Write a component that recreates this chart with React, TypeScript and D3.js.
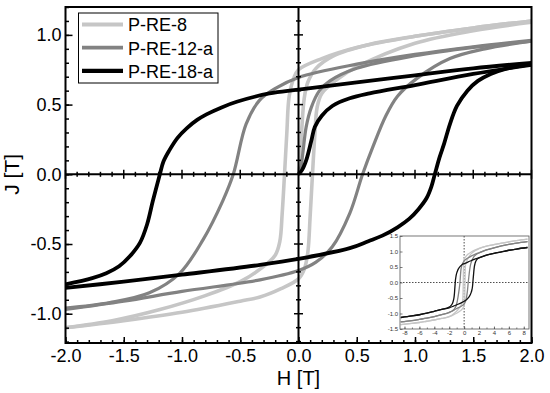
import { useEffect, useRef } from 'react'
import * as d3 from 'd3'

const FONT = "'Liberation Sans', Arial, sans-serif"

// P-RE-8 (light grey) — H in T, J in T
const re8DescH = [-2, -1.6, -1.19, -0.8, -0.5, -0.33, -0.2, -0.16, -0.14, -0.12, -0.1, -0.08, -0.04, 0, 0.2, 0.5, 1.0, 1.5, 2]
const re8DescJ = [-1.1, -1.05, -0.97, -0.87, -0.77, -0.68, -0.58, -0.48, -0.28, 0, 0.3, 0.56, 0.69, 0.75, 0.83, 0.91, 0.99, 1.05, 1.1]
const re8AscH = [-2, -1.5, -1.0, -0.5, -0.33, -0.15, 0, 0.05, 0.08, 0.1, 0.12, 0.14, 0.16, 0.2, 0.33, 0.5, 1.0, 1.5, 2]
const re8AscJ = [-1.1, -1.05, -0.99, -0.91, -0.88, -0.82, -0.75, -0.68, -0.56, -0.3, 0, 0.28, 0.48, 0.58, 0.68, 0.77, 0.94, 1.03, 1.09]
const re8VirginH = [0, 0.015, 0.03, 0.05, 0.08, 0.15, 0.3, 0.6, 1.0, 1.5, 2]
const re8VirginJ = [0, 0.1, 0.35, 0.55, 0.66, 0.76, 0.85, 0.93, 0.99, 1.05, 1.1]

// P-RE-12-a (mid grey)
const re12DescH = [-2, -1.62, -1.28, -1.02, -0.82, -0.65, -0.56, -0.45, -0.335, -0.19, 0, 0.5, 1.0, 1.5, 2]
const re12DescJ = [-0.96, -0.92, -0.85, -0.71, -0.47, -0.19, 0, 0.36, 0.53, 0.62, 0.695, 0.79, 0.86, 0.915, 0.96]
const re12AscH = [-2, -1.5, -1.0, -0.33, 0, 0.15, 0.29, 0.44, 0.55, 0.64, 0.75, 0.85, 1.02, 1.3, 1.6, 2]
const re12AscJ = [-0.97, -0.91, -0.84, -0.757, -0.69, -0.63, -0.52, -0.28, 0, 0.2, 0.42, 0.56, 0.69, 0.83, 0.9, 0.955]
const re12VirginH = [0, 0.02, 0.037, 0.066, 0.11, 0.18, 0.27, 0.5, 1.0, 1.5, 2]
const re12VirginJ = [0, 0.05, 0.15, 0.34, 0.48, 0.6, 0.67, 0.76, 0.85, 0.91, 0.955]

// P-RE-18-a (black)
const re18DescH = [-2, -1.77, -1.65, -1.54, -1.45, -1.36, -1.3, -1.25, -1.19, -1.16, -1.11, -1.04, -0.96, -0.87, -0.79, -0.66, -0.53, -0.25, 0, 0.5, 1.0, 1.5, 2]
const re18DescJ = [-0.79, -0.745, -0.71, -0.66, -0.59, -0.49, -0.36, -0.19, 0, 0.09, 0.17, 0.26, 0.33, 0.39, 0.43, 0.48, 0.52, 0.58, 0.607, 0.66, 0.71, 0.76, 0.8]
const re18AscH = [-2, -1.5, -1.0, -0.33, 0, 0.44, 0.6, 0.72, 0.85, 0.95, 1.03, 1.1, 1.14, 1.17, 1.21, 1.25, 1.3, 1.36, 1.45, 1.54, 1.65, 1.77, 2]
const re18AscJ = [-0.815, -0.77, -0.72, -0.65, -0.607, -0.53, -0.48, -0.44, -0.38, -0.32, -0.25, -0.17, -0.09, 0, 0.12, 0.22, 0.36, 0.49, 0.6, 0.67, 0.72, 0.755, 0.79]
const re18VirginH = [0, 0.03, 0.066, 0.11, 0.14, 0.2, 0.29, 0.44, 0.61, 1.0, 1.5, 2]
const re18VirginJ = [0, 0.03, 0.1, 0.24, 0.34, 0.42, 0.49, 0.545, 0.58, 0.64, 0.72, 0.785]

// inset: wider field range, outer parts of the loops
const insetLowH = [-8.5, -7, -6, -5, -4, -3]
const insetHighH = [3, 4, 5, 6, 7, 8.5]
const re8LowJ = [-1.36, -1.32, -1.29, -1.25, -1.21, -1.16]
const re8HighJ = [1.17, 1.22, 1.27, 1.31, 1.35, 1.4]
const re12LowJ = [-1.27, -1.23, -1.19, -1.15, -1.1, -1.04]
const re12HighJ = [1.05, 1.12, 1.18, 1.23, 1.27, 1.32]
const re18LowJ = [-1.13, -1.08, -1.04, -0.99, -0.93, -0.87]
const re18HighJ = [0.88, 0.94, 0.99, 1.04, 1.08, 1.13]

const xTicks = [-2, -1.5, -1, -0.5, 0, 0.5, 1, 1.5, 2]
const yTicks = [-1, -0.5, 0, 0.5, 1]
const insetXTicks = [-8, -6, -4, -2, 0, 2, 4, 6, 8]
const insetYTicks = [-1.5, -1, -0.5, 0, 0.5, 1, 1.5]

type Pt = [number, number]
const zip = (h: number[], j: number[]): Pt[] => h.map((v, i) => [v, j[i]])

export default function App() {
  const svgRef = useRef<SVGSVGElement>(null)

  useEffect(() => {
    if (!svgRef.current) return
    const svg = d3.select(svgRef.current)
    svg.selectAll('*').remove()

    const series = [
      { name: 'P-RE-8', color: '#c6c6c6', width: 3.6, desc: zip(re8DescH, re8DescJ), asc: zip(re8AscH, re8AscJ), virgin: zip(re8VirginH, re8VirginJ), low: zip(insetLowH, re8LowJ), high: zip(insetHighH, re8HighJ) },
      { name: 'P-RE-12-a', color: '#828282', width: 3.2, desc: zip(re12DescH, re12DescJ), asc: zip(re12AscH, re12AscJ), virgin: zip(re12VirginH, re12VirginJ), low: zip(insetLowH, re12LowJ), high: zip(insetHighH, re12HighJ) },
      { name: 'P-RE-18-a', color: '#000000', width: 3.8, desc: zip(re18DescH, re18DescJ), asc: zip(re18AscH, re18AscJ), virgin: zip(re18VirginH, re18VirginJ), low: zip(insetLowH, re18LowJ), high: zip(insetHighH, re18HighJ) },
    ]

    const left = 65.5, right = 531.5, top = 7, bottom = 343
    const x = d3.scaleLinear().domain([-2, 2]).range([left, right])
    const y = d3.scaleLinear().domain([-1.21, 1.2]).range([bottom, top])

    svg.append('rect').attr('width', 550).attr('height', 393).attr('fill', '#fff')

    const defs = svg.append('defs')
    defs.append('clipPath').attr('id', 'plot-clip')
      .append('rect').attr('x', left).attr('y', top).attr('width', right - left).attr('height', bottom - top)

    const line = d3.line<Pt>()
      .x(d => x(d[0]))
      .y(d => y(d[1]))
      .curve(d3.curveCatmullRom.alpha(0.5))

    const curves = svg.append('g').attr('clip-path', 'url(#plot-clip)')
    series.forEach(s => {
      ;[s.desc, s.asc, s.virgin].forEach(branch => {
        curves.append('path')
          .datum(branch)
          .attr('fill', 'none')
          .attr('stroke', s.color)
          .attr('stroke-width', s.width)
          .attr('stroke-linejoin', 'round')
          .attr('d', line)
      })
    })

    // crossing axes through the origin
    const cross = svg.append('g').attr('stroke', '#000')
    cross.append('line').attr('x1', left).attr('x2', right).attr('y1', y(0)).attr('y2', y(0)).attr('stroke-width', 2)
    cross.append('line').attr('x1', x(0)).attr('x2', x(0)).attr('y1', top).attr('y2', bottom).attr('stroke-width', 2)

    const hMinor = d3.range(-20, 21).map(i => i / 10)
    const jMinor = d3.range(-12, 13).map(i => i / 10)
    const isMajor = (v: number) => Math.abs(Math.round(v * 2) - v * 2) < 1e-6

    cross.selectAll('line.hx')
      .data(hMinor.filter(v => v !== 0))
      .join('line')
      .attr('class', 'hx')
      .attr('x1', d => x(d)).attr('x2', d => x(d))
      .attr('y1', d => y(0) - (isMajor(d) ? 4.5 : 2.5))
      .attr('y2', d => y(0) + (isMajor(d) ? 4.5 : 2.5))
      .attr('stroke-width', 1.5)
    cross.selectAll('line.jy')
      .data(jMinor.filter(v => v !== 0))
      .join('line')
      .attr('class', 'jy')
      .attr('y1', d => y(d)).attr('y2', d => y(d))
      .attr('x1', d => x(0) - (isMajor(d) ? 4.5 : 2.5))
      .attr('x2', d => x(0) + (isMajor(d) ? 4.5 : 2.5))
      .attr('stroke-width', 1.5)

    // frame axes
    const fmt = (d: d3.NumberValue) => (+d).toFixed(1)
    const bottomAxis = svg.append('g')
      .attr('transform', `translate(0,${bottom})`)
      .call(d3.axisBottom(x).tickValues(xTicks).tickSize(-6).tickPadding(6).tickFormat(fmt))
    svg.append('g')
      .attr('transform', `translate(0,${bottom})`)
      .call(d3.axisBottom(x).tickValues(hMinor).tickSize(-3).tickFormat(() => ''))
    const leftAxis = svg.append('g')
      .attr('transform', `translate(${left},0)`)
      .call(d3.axisLeft(y).tickValues(yTicks).tickSize(-7).tickPadding(4).tickFormat(fmt))
    svg.append('g')
      .attr('transform', `translate(${left},0)`)
      .call(d3.axisLeft(y).tickValues(jMinor).tickSize(-3.5).tickFormat(() => ''))

    svg.selectAll('.domain').remove()
    svg.selectAll('.tick line').attr('stroke', '#000').attr('stroke-width', 1.5)
    ;[bottomAxis, leftAxis].forEach(a => a.selectAll('text')
      .style('font-family', FONT)
      .style('font-size', '18px')
      .attr('fill', '#000'))

    svg.append('rect')
      .attr('x', left).attr('y', top)
      .attr('width', right - left).attr('height', bottom - top)
      .attr('fill', 'none').attr('stroke', '#000').attr('stroke-width', 2)

    svg.append('text')
      .attr('x', x(0)).attr('y', 385)
      .attr('text-anchor', 'middle')
      .style('font-family', FONT).style('font-size', '20px')
      .text('H [T]')
    svg.append('text')
      .attr('transform', `translate(19,${y(0)}) rotate(-90)`)
      .attr('text-anchor', 'middle')
      .style('font-family', FONT).style('font-size', '21px')
      .text('J [T]')

    // legend
    const legend = svg.append('g')
    legend.append('rect')
      .attr('x', 78.5).attr('y', 13).attr('width', 139.5).attr('height', 70)
      .attr('fill', '#fff').attr('stroke', '#000').attr('stroke-width', 1)
    series.forEach((s, i) => {
      const cy = 24.5 + i * 23.2
      legend.append('line')
        .attr('x1', 82).attr('x2', 123).attr('y1', cy).attr('y2', cy)
        .attr('stroke', s.color).attr('stroke-width', s.width + 0.6)
      legend.append('text')
        .attr('x', 128).attr('y', cy + 6.8)
        .style('font-family', FONT).style('font-size', '18px')
        .text(s.name)
    })

    // inset with the full field range
    const il = 400, ir = 529, it = 236, ib = 329
    const ix = d3.scaleLinear().domain([-8.6, 8.7]).range([il, ir])
    const iy = d3.scaleLinear().domain([-1.5, 1.5]).range([ib, it])
    defs.append('clipPath').attr('id', 'inset-clip')
      .append('rect').attr('x', il).attr('y', it).attr('width', ir - il).attr('height', ib - it)

    const inset = svg.append('g')
    inset.append('rect')
      .attr('x', il).attr('y', it).attr('width', ir - il).attr('height', ib - it)
      .attr('fill', '#fff')
    inset.append('line').attr('x1', il).attr('x2', ir).attr('y1', iy(0)).attr('y2', iy(0))
      .attr('stroke', '#222').attr('stroke-width', 0.8).attr('stroke-dasharray', '1.5,1.5')
    inset.append('line').attr('x1', ix(0)).attr('x2', ix(0)).attr('y1', it).attr('y2', ib)
      .attr('stroke', '#222').attr('stroke-width', 0.8).attr('stroke-dasharray', '1.5,1.5')

    const iline = d3.line<Pt>()
      .x(d => ix(d[0]))
      .y(d => iy(d[1]))
      .curve(d3.curveMonotoneX)
    const icurves = inset.append('g').attr('clip-path', 'url(#inset-clip)')
    series.forEach(s => {
      ;[
        [...s.low, ...s.desc, ...s.high],
        [...s.low, ...s.asc, ...s.high],
      ].forEach(branch => {
        icurves.append('path')
          .datum(branch)
          .attr('fill', 'none')
          .attr('stroke', s.color === '#000000' ? '#111' : s.color)
          .attr('stroke-width', 1.3)
          .attr('d', iline)
      })
    })

    const ifmt = (d: d3.NumberValue) => (+d).toFixed(1)
    const ibAxis = inset.append('g')
      .attr('transform', `translate(0,${ib})`)
      .call(d3.axisBottom(ix).tickValues(insetXTicks).tickSize(-2.5).tickPadding(2).tickFormat(d => String(d)))
    inset.append('g')
      .attr('transform', `translate(0,${ib})`)
      .call(d3.axisBottom(ix).tickValues(d3.range(-8, 9)).tickSize(-1.5).tickFormat(() => ''))
    const ilAxis = inset.append('g')
      .attr('transform', `translate(${il},0)`)
      .call(d3.axisLeft(iy).tickValues(insetYTicks).tickSize(-2.5).tickPadding(2).tickFormat(ifmt))
    inset.selectAll('.domain').remove()
    inset.selectAll('.tick line').attr('stroke', '#444').attr('stroke-width', 0.7)
    ;[ibAxis, ilAxis].forEach(a => a.selectAll('text')
      .style('font-family', FONT)
      .style('font-size', '6px')
      .attr('fill', '#333'))

    inset.append('rect')
      .attr('x', il).attr('y', it).attr('width', ir - il).attr('height', ib - it)
      .attr('fill', 'none').attr('stroke', '#555').attr('stroke-width', 0.8)
  }, [])

  return (
    <svg
      ref={svgRef}
      width={550}
      height={393}
      style={{ position: 'absolute', left: 0, top: 0 }}
    />
  )
}
